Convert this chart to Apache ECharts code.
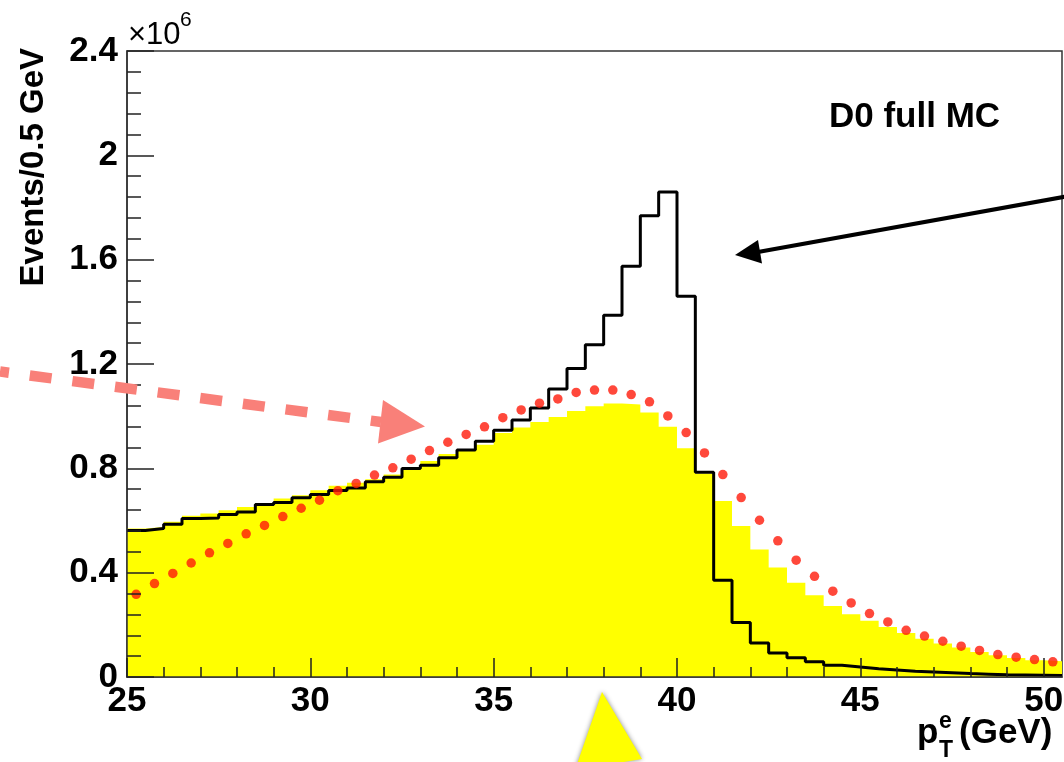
<!DOCTYPE html>
<html><head><meta charset="utf-8">
<script src="https://cdn.jsdelivr.net/npm/echarts@6/dist/echarts.min.js"></script>
<style>html,body{margin:0;padding:0;background:#fff;} #c{width:1064px;height:762px;}</style>
</head><body><div id="c"></div>
<script>
// Histogram binning (GeV)
const BIN_START = 25;
const BIN_WIDTH = 0.5;
const X_MIN = 25, X_MAX = 50.5;

// Values in units of 10^6 events per 0.5 GeV
const yellowHist = [0.569,0.575,0.595,0.618,0.627,0.639,0.652,0.667,0.684,0.697,
  0.716,0.733,0.745,0.758,0.776,0.799,0.828,0.855,0.872,0.890,
  0.935,0.957,0.978,0.997,1.020,1.038,1.049,1.045,1.014,0.959,
  0.877,0.780,0.675,0.579,0.489,0.420,0.361,0.313,0.272,0.241,
  0.216,0.192,0.169,0.147,0.128,0.113,0.096,0.083,0.073,0.064,0.060];
const blackHist = [0.562,0.569,0.586,0.608,0.610,0.623,0.633,0.661,0.669,0.687,
  0.700,0.715,0.725,0.749,0.766,0.799,0.812,0.841,0.870,0.904,
  0.946,0.985,1.031,1.104,1.183,1.274,1.387,1.575,1.768,1.859,
  1.460,0.785,0.371,0.209,0.130,0.092,0.074,0.058,0.045,0.038,
  0.032,0.027,0.022,0.019,0.016,0.013,0.011,0.009,0.008,0.007,0.006];
const redDots = [0.317,0.358,0.397,0.437,0.476,0.512,0.549,0.581,0.615,0.647,
  0.678,0.714,0.742,0.774,0.802,0.835,0.868,0.900,0.930,0.959,
  0.994,1.024,1.050,1.066,1.091,1.100,1.100,1.083,1.055,1.001,
  0.937,0.859,0.776,0.688,0.601,0.522,0.448,0.386,0.329,0.284,
  0.243,0.211,0.179,0.157,0.137,0.118,0.102,0.086,0.076,0.067,0.058];

const xMajorTicks = [25, 30, 35, 40, 45, 50];
const yTickLabels = ['0', '0.4', '0.8', '1.2', '1.6', '2', '2.4'];

// helpers
function stepPoints(vals) {
  const pts = vals.map((v, i) => [BIN_START + i * BIN_WIDTH, v]);
  pts.push([BIN_START + vals.length * BIN_WIDTH, vals[vals.length - 1]]);
  return pts;
}
const centers = redDots.map((v, i) => [BIN_START + (i + 0.5) * BIN_WIDTH, v]);
const xMinorTicks = [];
for (let t = X_MIN; t <= 50; t += 1) if (xMajorTicks.indexOf(t) < 0) xMinorTicks.push(t);

const FONT = 'Liberation Sans, Arial, Helvetica, sans-serif';

const chart = echarts.init(document.getElementById('c'), null, {renderer: 'canvas'});
const option = {
  animation: false,
  backgroundColor: '#fff',
  grid: {left: 127, right: 2, top: 51, bottom: 85, show: true, borderColor: '#333', borderWidth: 1.5,
         backgroundColor: 'transparent', containLabel: false, outerBoundsMode: 'none'},
  xAxis: [{
    type: 'value', min: X_MIN, max: X_MAX, position: 'bottom', z: 10,
    axisLine: {show: true, onZero: false, lineStyle: {color: '#333', width: 1.5}},
    axisTick: {show: true, inside: true, length: 19, customValues: xMajorTicks, lineStyle: {color: '#222', width: 1.5}},
    axisLabel: {show: true, customValues: xMajorTicks, margin: 7, color: '#000', fontSize: 35, fontWeight: 'bold', fontFamily: FONT,
                formatter: v => String(v)},
    splitLine: {show: false}
  }, {
    type: 'value', min: X_MIN, max: X_MAX, position: 'bottom', z: 10,
    axisLine: {show: false},
    axisTick: {show: true, inside: true, length: 10, customValues: xMinorTicks, lineStyle: {color: '#222', width: 1.5}},
    axisLabel: {show: false},
    splitLine: {show: false}
  }],
  yAxis: {
    type: 'value', min: 0, max: 2.4, interval: 0.4, z: 10,
    axisLine: {show: true, onZero: false, lineStyle: {color: '#333', width: 1.5}},
    axisTick: {show: true, inside: true, length: 27, lineStyle: {color: '#222', width: 1.5}},
    minorTick: {show: true, splitNumber: 5, length: 14, lineStyle: {color: '#222', width: 1.5}},
    axisLabel: {margin: 9, color: '#000', fontSize: 35, fontWeight: 'bold', fontFamily: FONT,
                formatter: v => yTickLabels[Math.round(v / 0.4)]},
    splitLine: {show: false}
  },
  series: [{
    name: 'yellow', type: 'line', step: 'end', data: stepPoints(yellowHist),
    showSymbol: false, symbol: 'none', lineStyle: {width: 0, color: '#ffff00'},
    areaStyle: {color: '#ffff00', opacity: 1}, z: 2, silent: true
  }, {
    name: 'black', type: 'line', step: 'end', data: stepPoints(blackHist),
    showSymbol: false, symbol: 'none', lineStyle: {width: 3, color: '#000'}, z: 3, silent: true
  }, {
    name: 'red', type: 'scatter', data: centers, symbol: 'circle', symbolSize: 9.5,
    itemStyle: {color: '#ff1a0a'}, z: 4, silent: true
  }],
  graphic: [
    {type: 'text', x: 128, y: 35, z: 100, style: {text: '×10', font: 'normal 31px ' + FONT, fill: '#000',
      textAlign: 'left', align: 'left', textVerticalAlign: 'middle', verticalAlign: 'middle'}},
    {type: 'text', x: 180, y: 20, z: 100, style: {text: '6', font: 'normal 21px ' + FONT, fill: '#000',
      textAlign: 'left', align: 'left', textVerticalAlign: 'middle', verticalAlign: 'middle'}},
    {type: 'text', x: 829, y: 117, z: 100, style: {text: 'D0 full MC', font: 'bold 35px ' + FONT, fill: '#000',
      textAlign: 'left', align: 'left', textVerticalAlign: 'middle', verticalAlign: 'middle'}},
    {type: 'text', x: 34, y: 48, rotation: Math.PI / 2, z: 100, style: {text: 'Events/0.5 GeV', font: 'bold 33px ' + FONT, fill: '#000',
      textAlign: 'right', align: 'right', textVerticalAlign: 'middle', verticalAlign: 'middle'}},
    {type: 'text', x: 917, y: 733, z: 100, style: {text: 'p', font: 'bold 35px ' + FONT, fill: '#000',
      textAlign: 'left', align: 'left', textVerticalAlign: 'middle', verticalAlign: 'middle'}},
    {type: 'text', x: 939, y: 722, z: 100, style: {text: 'e', font: 'bold 23px ' + FONT, fill: '#000',
      textAlign: 'left', align: 'left', textVerticalAlign: 'middle', verticalAlign: 'middle'}},
    {type: 'text', x: 939, y: 751, z: 100, style: {text: 'T', font: 'bold 23px ' + FONT, fill: '#000',
      textAlign: 'left', align: 'left', textVerticalAlign: 'middle', verticalAlign: 'middle'}},
    {type: 'text', x: 959, y: 733, z: 100, style: {text: '(GeV)', font: 'bold 35px ' + FONT, fill: '#000',
      textAlign: 'left', align: 'left', textVerticalAlign: 'middle', verticalAlign: 'middle'}},
    // pink dashed arrow
    {type: 'polyline', z: 100, shape: {points: [[0, 371.5], [381, 422]]},
      style: {stroke: '#f98079', lineWidth: 10.5, lineDash: [22, 21], lineDashOffset: 13, fill: null}},
    {type: 'polygon', z: 100, shape: {points: [[425, 426.5], [383, 400], [378, 443.5]]},
      style: {fill: '#f98079', stroke: null}},
    // black arrow
    {type: 'polyline', z: 100, shape: {points: [[1066, 196.5], [758, 252]]},
      style: {stroke: '#000', lineWidth: 4, fill: null}},
    {type: 'polygon', z: 100, shape: {points: [[735, 255], [758, 240], [762, 263.5]]},
      style: {fill: '#000', stroke: null}},
    // yellow arrow head (bottom)
    {type: 'polygon', z: 100, shape: {points: [[602, 692], [575, 770], [642, 759]]},
      style: {fill: '#ffff00', stroke: null, shadowBlur: 5, shadowColor: 'rgba(0,0,0,0.45)', shadowOffsetX: 0, shadowOffsetY: 0}}
  ]
};
chart.setOption(option);
</script>
</body></html>
